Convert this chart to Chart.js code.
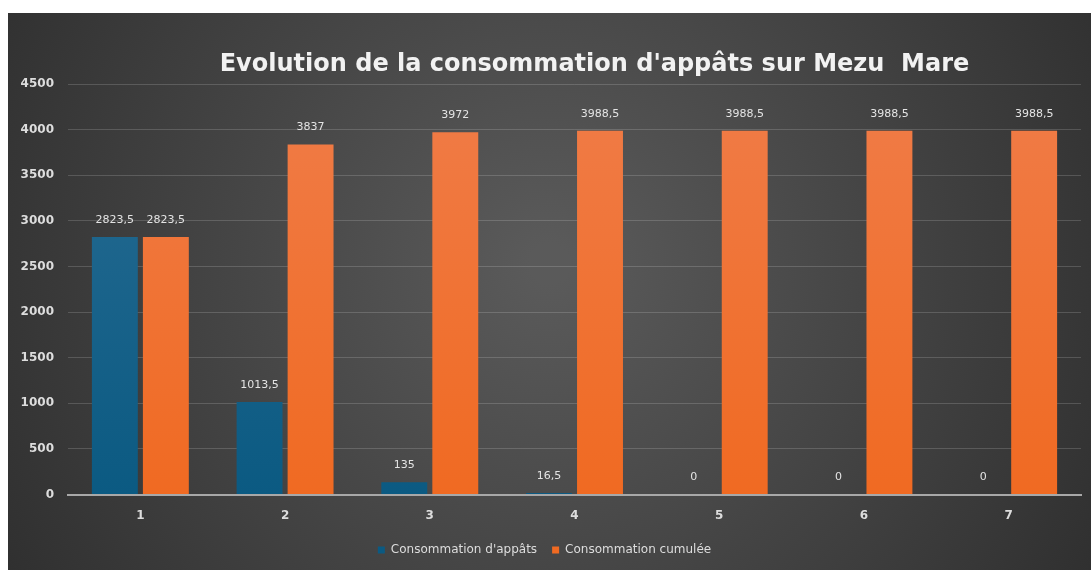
<!DOCTYPE html>
<html>
<head>
<meta charset="utf-8">
<script src="https://cdn.jsdelivr.net/npm/chart.js@4"></script>
<style>
    html, body { margin: 0; padding: 0; background: #ffffff; }
    #wrap { position: absolute; left: 8px; top: 13px; width: 1083px; height: 557px; }
</style>
</head>
<body>
<div id="wrap"><canvas id="chart"></canvas></div>
<script>
var categories = ['1', '2', '3', '4', '5', '6', '7'];
var consommation = [2823.5, 1013.5, 135, 16.5, 0, 0, 0];
var cumulee = [2823.5, 3837, 3972, 3988.5, 3988.5, 3988.5, 3988.5];
var seriesNames = ["Consommation d'appâts", 'Consommation cumulée'];
var yTicks = [0, 500, 1000, 1500, 2000, 2500, 3000, 3500, 4000, 4500];
var titleText = "Evolution de la consommation d'appâts sur Mezu  Mare";

function barGradient(ctx, top, bottom) {
    var chart = ctx.chart;
    var area = chart.chartArea;
    if (!area) return bottom;
    var g = chart.ctx.createLinearGradient(0, area.top, 0, area.bottom);
    g.addColorStop(0, top);
    g.addColorStop(1, bottom);
    return g;
}

var backgroundPlugin = {
    id: 'bg',
    beforeDraw: function (chart) {
        var c = chart.ctx;
        var w = chart.width, h = chart.height;
        c.save();
        var g = c.createRadialGradient(w * 0.5, h * 0.45, 20, w * 0.5, h * 0.45, w * 0.6);
        g.addColorStop(0, '#5a5a5a');
        g.addColorStop(1, '#2e2e2e');
        c.fillStyle = g;
        c.fillRect(0, 0, w, h);
        c.restore();
    }
};

var titlePlugin = {
    id: 'customTitle',
    afterDraw: function (chart) {
        var c = chart.ctx;
        c.save();
        c.font = 'bold 24px "DejaVu Sans"';
        c.fillStyle = '#f2f2f2';
        c.textAlign = 'center';
        c.textBaseline = 'middle';
        c.fillText(titleText, (chart.chartArea.left + chart.chartArea.right) / 2 + 20, 52);
        c.restore();
    }
};

var labelPlugin = {
    id: 'valueLabels',
    afterDatasetsDraw: function (chart) {
        var c = chart.ctx;
        c.save();
        c.font = '11px "DejaVu Sans"';
        c.fillStyle = '#e4e4e4';
        c.textAlign = 'center';
        c.textBaseline = 'middle';
        chart.data.datasets.forEach(function (ds, i) {
            var meta = chart.getDatasetMeta(i);
            meta.data.forEach(function (bar, j) {
                var txt = String(ds.data[j]).replace('.', ',');
                c.fillText(txt, bar.x, bar.y - 17);
            });
        });
        c.restore();
    }
};

var data = {
    labels: categories,
    datasets: [{
        label: seriesNames[0],
        data: consommation,
        backgroundColor: function (ctx) { return barGradient(ctx, '#286c93', '#0b5a82'); },
        categoryPercentage: 0.705,
        barPercentage: 0.9
    }, {
        label: seriesNames[1],
        data: cumulee,
        backgroundColor: function (ctx) { return barGradient(ctx, '#f07c48', '#f06a22'); },
        categoryPercentage: 0.705,
        barPercentage: 0.9
    }]
};

var config = {
    type: 'bar',
    data: data,
    options: {
        responsive: true,
        maintainAspectRatio: false,
        animation: false,
        layout: { padding: { top: 71, right: 10, bottom: 4, left: 0 } },
        scales: {
            x: {
                grid: { display: false },
                border: { display: true, color: '#a8a8a8', width: 2 },
                ticks: { color: '#dddddd', font: { family: 'DejaVu Sans', size: 12, weight: 'bold' }, padding: 6 }
            },
            y: {
                min: 0,
                max: 4500,
                afterFit: function (scale) { scale.width = 60; },
                afterBuildTicks: function (scale) {
                    scale.ticks = yTicks.map(function (v) { return { value: v }; });
                },
                grid: { color: 'rgba(255,255,255,0.16)', drawTicks: false },
                border: { display: false },
                ticks: {
                    color: '#dddddd',
                    font: { family: 'DejaVu Sans', size: 12, weight: 'bold' },
                    padding: 14,
                    callback: function (value) { return String(value); }
                }
            }
        },
        plugins: {
            title: { display: false },
            tooltip: { enabled: false },
            legend: {
                display: true,
                position: 'bottom',
                labels: {
                    color: '#dddddd',
                    boxWidth: 7,
                    boxHeight: 7,
                    padding: 15,
                    font: { family: 'DejaVu Sans', size: 12 }
                }
            }
        }
    },
    plugins: [backgroundPlugin, titlePlugin, labelPlugin]
};

var ctx = document.querySelector('#chart');
new Chart(ctx, config);
</script>
</body>
</html>
